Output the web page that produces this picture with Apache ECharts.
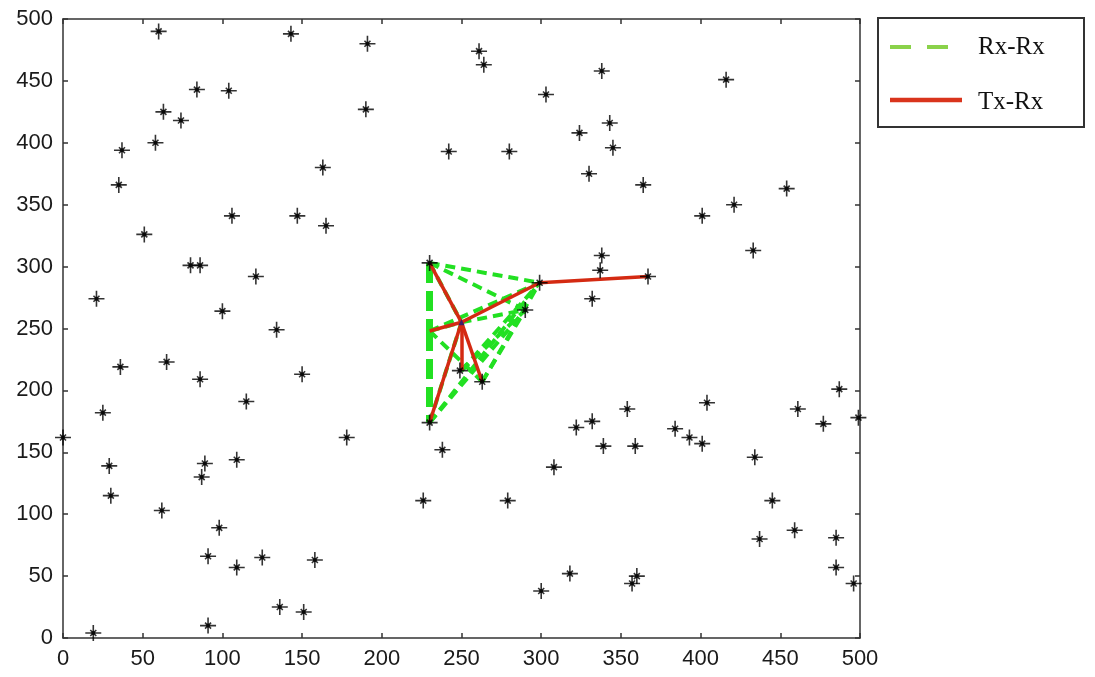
<!DOCTYPE html>
<html>
<head>
<meta charset="utf-8">
<script src="https://cdn.jsdelivr.net/npm/echarts@6/dist/echarts.min.js"></script>
<style>html,body{margin:0;padding:0;background:#fff}#c{width:1095px;height:677px}</style>
</head>
<body>
<div id="c"></div>
<script>
// Sensor positions (stars)
const starX = [60,143,191,84,104,63,74,190,58,37,35,163,51,106,147,165,80,86,121,21,100,134,242,230,
  261,264,338,416,303,343,324,280,345,330,364,454,421,401,433,338,337,367,299,332,290,
  36,65,86,150,25,115,0,178,230,238,29,89,87,109,30,62,226,98,91,125,158,109,136,151,91,19,
  487,404,354,461,499,477,332,322,384,393,401,339,359,434,308,279,445,459,437,485,485,496,318,360,357,300,249,263];
const starY = [490,488,480,443,442,425,418,427,400,394,366,380,326,341,341,333,301,301,292,274,264,249,393,303,
  474,463,458,451,439,416,408,393,396,375,366,363,350,341,313,309,297,292,287,274,265,
  219,223,209,213,182,191,162,162,174,152,139,141,130,144,115,103,111,89,66,65,63,57,25,21,10,4,
  201,190,185,185,178,173,175,170,169,162,157,155,155,146,138,111,111,87,80,81,57,44,52,50,44,38,216,207];

// Network nodes
const nodeNames = ['A','B','C','D','E','F','G','H','I'];
const nodeX = [230,299,367,250,230,230,250,263,290];
const nodeY = [303,287,292,255,248,174,216,207,265];

// Links
const rxRxLinks = [['A','B'],['A','I'],['A','D'],['E','B'],['E','H'],['F','B'],['F','I'],['F','D'],['G','B'],['H','B'],['H','I'],['D','I'],['E','D'],['G','I']];
const rxRxThick = [['A','E'],['E','F']];
const txRxLinks = [['B','C'],['D','B'],['A','D'],['E','D'],['F','D'],['D','G'],['D','H']];

const legendNames = ['Rx-Rx','Tx-Rx'];

function pt(n){const i=nodeNames.indexOf(n);return [nodeX[i],nodeY[i]];}
const starData = starX.map((x,i)=>[x,starY[i]]);

const GREEN='#22e022', RED='#d42a12';
const labelFont = {fontFamily:'Liberation Sans, Arial, sans-serif', fontSize:22, color:'#1a1a1a'};
const axisCommon = {
  type:'value', min:0, max:500, interval:50, splitLine:{show:false},
  axisLine:{show:true,onZero:false,lineStyle:{color:'#333',width:1.5}},
  axisTick:{show:true,inside:true,length:5,lineStyle:{color:'#333',width:1.5}}
};
const starPath = 'path://M8,0L8,16M0,8L16,8M5,5L11,11M5,11L11,5';

const chart = echarts.init(document.getElementById('c'), null, {renderer:'canvas'});
chart.setOption({
  animation:false,
  backgroundColor:'#fff',
  grid:{left:63,right:235,top:19,bottom:39,containLabel:false},
  xAxis:[
    Object.assign({}, axisCommon, {position:'bottom', axisLabel:Object.assign({margin:10}, labelFont)}),
    Object.assign({}, axisCommon, {position:'top', axisLabel:{show:false}})
  ],
  yAxis:[
    Object.assign({}, axisCommon, {position:'left', axisLabel:Object.assign({margin:10}, labelFont)}),
    Object.assign({}, axisCommon, {position:'right', axisLabel:{show:false}})
  ],
  series:[
    {type:'lines', coordinateSystem:'cartesian2d', z:3, silent:true,
     lineStyle:{color:GREEN,width:7,type:[20,8],opacity:1},
     data: rxRxThick.map(l=>({coords:[pt(l[0]),pt(l[1])]}))},
    {name:legendNames[0], type:'lines', coordinateSystem:'cartesian2d', z:3, silent:true,
     lineStyle:{color:GREEN,width:4,type:[10,6],opacity:1},
     data: rxRxLinks.map(l=>({coords:[pt(l[0]),pt(l[1])]}))},
    {name:legendNames[1], type:'lines', coordinateSystem:'cartesian2d', z:4, silent:true,
     lineStyle:{color:RED,width:3.5,type:'solid',opacity:1},
     data: txRxLinks.map(l=>({coords:[pt(l[0]),pt(l[1])]}))},
    {type:'scatter', z:5, symbol:starPath, symbolSize:16, silent:true,
     itemStyle:{color:'none',borderColor:'#000',borderWidth:1.6},
     data: starData},
    {type:'scatter', z:6, symbol:'circle', symbolSize:4, silent:true,
     itemStyle:{color:'#000'}, data: starData},
    {type:'scatter', z:6, symbol:'triangle', symbolSize:6, silent:true,
     itemStyle:{color:'#1a1a80'}, data:[pt('D')]}
  ],
  graphic:[
    {type:'rect', shape:{x:878,y:18,width:206,height:109}, style:{fill:'#fff',stroke:'#333',lineWidth:2}},
    {type:'line', shape:{x1:890,y1:47,x2:948,y2:47}, style:{stroke:'#8ad24a',lineWidth:4,lineDash:[21,16]}},
    {type:'line', shape:{x1:890,y1:100,x2:962,y2:100}, style:{stroke:'#d9341c',lineWidth:4.5}},
    {type:'text', x:978, y:47, style:{text:legendNames[0], fontFamily:'Liberation Serif, Times New Roman, serif', fontSize:25, fill:'#111', verticalAlign:'middle'}},
    {type:'text', x:978, y:102, style:{text:legendNames[1], fontFamily:'Liberation Serif, Times New Roman, serif', fontSize:25, fill:'#111', verticalAlign:'middle'}}
  ]
});
</script>
</body>
</html>
